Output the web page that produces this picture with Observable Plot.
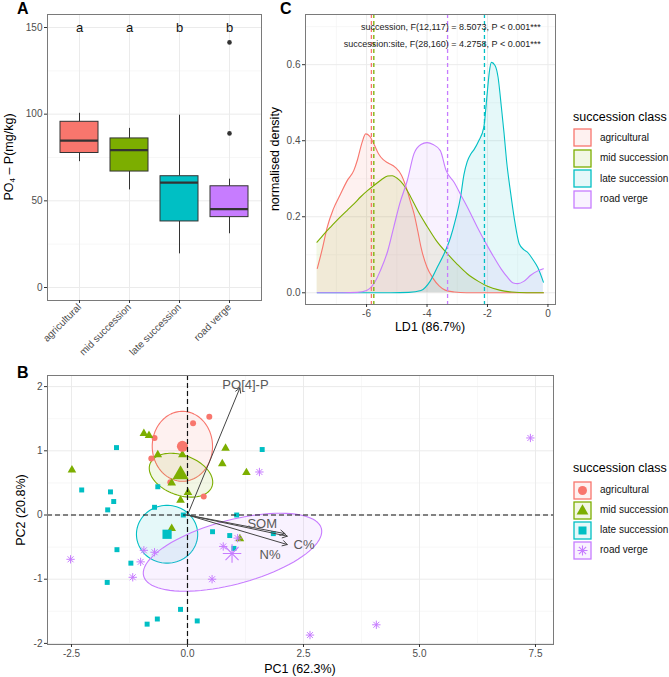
<!DOCTYPE html>
<html><head><meta charset="utf-8">
<script src="https://cdn.jsdelivr.net/npm/d3@7"></script>
<script src="https://cdn.jsdelivr.net/npm/@observablehq/plot@0.6"></script>
<style>
body{margin:0;background:#fff;font-family:"Liberation Sans",Arial,sans-serif;}
#c{position:relative;width:669px;height:677px;overflow:hidden;background:#fff;}
.abs{position:absolute;white-space:nowrap;line-height:1;}
</style></head><body><div id="c"></div>
<script>
// ---------- shared ----------
const classes = ["agricultural", "mid succession", "late succession", "road verge"];
const colors = ["#F8766D", "#7CAE00", "#00BFC4", "#C77CFF"];

// ---------- Panel A: boxplot PO4-P ----------
const boxMin = [72.6, 56.3, 19.4, 31.0];
const boxQ1 = [77.6, 66.9, 38.1, 40.6];
const boxMed = [84.7, 79.3, 60.5, 45.2];
const boxQ3 = [95.6, 86.0, 64.2, 58.4];
const boxMax = [100.5, 91.8, 99.4, 62.5];
const outlierClass = ["road verge", "road verge"];
const outlierValue = [141.4, 88.9];
const letters = ["a", "a", "b", "b"];
const letterLevel = 150;
const aTicks = [0, 50, 100, 150];
const aMinor = [25, 75, 125];

// ---------- Panel C: LDA densities ----------
const dAgriX = [-7.63,-7.45,-7.3,-7.1,-6.86,-6.64,-6.42,-6.3,-6.15,-6.03,-5.9,-5.75,-5.6,-5.45,-5.3,-5.05,-4.85,-4.7,-4.55,-4.43,-4.3,-4.2,-4.0,-3.8,-3.6,-3.4,-3.1,-2.7,-2.0,-1.0,-0.15];
const dAgriY = [0.064,0.12,0.173,0.22,0.26,0.295,0.322,0.35,0.395,0.418,0.412,0.39,0.365,0.35,0.342,0.33,0.31,0.28,0.24,0.208,0.16,0.12,0.067,0.038,0.018,0.007,0.002,0,0,0,0];
const dMidX = [-7.64,-7.4,-7.19,-6.9,-6.64,-6.4,-6.2,-5.95,-5.76,-5.5,-5.3,-5.15,-5.0,-4.87,-4.7,-4.54,-4.3,-4.0,-3.7,-3.33,-3.0,-2.67,-2.3,-2.0,-1.6,-1.2,-0.7,-0.15];
const dMidY = [0.133,0.155,0.173,0.197,0.217,0.235,0.252,0.27,0.282,0.298,0.307,0.308,0.302,0.293,0.275,0.252,0.215,0.175,0.138,0.103,0.075,0.05,0.03,0.017,0.007,0.002,0,0];
const dLateX = [-7.63,-5.2,-4.6,-4.2,-3.9,-3.66,-3.45,-3.22,-3.05,-2.89,-2.78,-2.67,-2.55,-2.45,-2.3,-2.12,-2.01,-1.94,-1.87,-1.75,-1.65,-1.54,-1.45,-1.37,-1.23,-1.12,-0.95,-0.79,-0.68,-0.51,-0.34,-0.15];
const dLateY = [0,0,0.001,0.006,0.03,0.067,0.1,0.146,0.195,0.252,0.31,0.345,0.365,0.376,0.398,0.436,0.524,0.58,0.606,0.598,0.567,0.488,0.418,0.348,0.26,0.199,0.129,0.113,0.107,0.089,0.067,0.028];
const dRoadX = [-7.63,-6.8,-6.3,-6.0,-5.75,-5.54,-5.3,-5.1,-4.9,-4.65,-4.43,-4.2,-4.0,-3.8,-3.56,-3.37,-3.1,-2.9,-2.6,-2.34,-2.05,-1.79,-1.55,-1.34,-1.15,-1.0,-0.8,-0.57,-0.35,-0.15];
const dRoadY = [0,0,0.001,0.006,0.025,0.059,0.11,0.173,0.235,0.296,0.366,0.39,0.395,0.39,0.374,0.322,0.29,0.26,0.215,0.173,0.13,0.094,0.063,0.041,0.026,0.024,0.03,0.046,0.057,0.063];
const meanLD1 = [-5.84, -5.76, -2.10, -3.32];
const annotTexts = ["succession, F(12,117) = 8.5073, P < 0.001***", "succession:site, F(28,160) = 4.2758, P < 0.001***"];
const annotY = [0.70, 0.654];
const annotX = -0.24;
const cXTicks = [-6, -4, -2, 0];
const cXMinor = [-7, -5, -3, -1];
const cYTicks = [0, 0.2, 0.4, 0.6];
const cYMinor = [0.1, 0.3, 0.5, 0.7];

// ---------- Panel B: PCA ----------
const agriPC1 = [0.47, 0.12, -0.71, -0.78, -0.37, 0.35];
const agriPC2 = [1.53, 1.43, 1.20, 0.88, 0.51, 0.29];
const midPC1 = [-2.49, -0.94, -0.83, -0.64, -0.11, -0.34, 0.01, -0.15, 0.82, 0.75, 1.27, -0.34, 1.13];
const midPC2 = [0.70, 1.27, 1.24, 0.94, 0.94, 0.50, 0.35, 0.23, 1.04, 0.80, 0.66, -0.21, -0.37];
const latePC1 = [-1.53, 1.61, -2.28, -1.66, -1.59, -1.72, -0.64, -0.71, -0.09, 1.06, -1.52, -1.22, -1.73, 0.54, 0.91, 1.00, 1.85, -0.15, -0.65, -0.87, 0.21];
const latePC2 = [1.05, 1.02, 0.39, 0.36, 0.21, 0.08, 0.44, 0.12, 0.00, 0.00, -0.54, -0.75, -1.05, -0.26, -0.32, -0.52, -0.29, -1.47, -1.62, -1.70, -1.65];
const roadPC1 = [1.55, 7.39, -2.52, -0.94, -0.71, -1.01, -1.18, 0.53, 0.77, 1.08, 2.64, 4.07];
const roadPC2 = [0.67, 1.20, -0.69, -0.55, -0.58, -0.73, -0.97, -1.00, -0.49, -0.36, -1.87, -1.71];
const centroidPC1 = [-0.11, -0.15, -0.44, 0.96];
const centroidPC2 = [1.07, 0.63, -0.30, -0.60];
// ellipse: centre + two semi-axis vectors (data units)
const ellCX = [-0.11, -0.14, -0.44, 0.97];
const ellCY = [1.07, 0.62, -0.30, -0.58];
const ellUX = [0.65, 0.668, 0.66, 1.915];
const ellUY = [0, -0.176, 0, 0.371];
const ellVX = [0, -0.147, 0, 0.178];
const ellVY = [0.545, -0.293, 0.45, -0.481];
const loadVar = ["PO[4]-P", "SOM", "C%", "N%"];
const loadPC1 = [1.13, 2.10, 2.15, 2.15];
const loadPC2 = [1.98, -0.29, -0.33, -0.46];
const loadLabPC1 = [1.25, 1.61, 2.51, 1.78];
const loadLabPC2 = [2.03, -0.14, -0.47, -0.62];
const loadLabAnchor = ["start", "middle", "middle", "middle"];
const bXTicks = [-2.5, 0, 2.5, 5, 7.5];
const bXMinor = [-1.25, 1.25, 3.75, 6.25];
const bYTicks = [-2, -1, 0, 1, 2];
const bYMinor = [-1.5, -0.5, 0.5, 1.5];

// ---------- helpers ----------
const FONT = "Liberation Sans, Arial, sans-serif";
const TICKC = "#4d4d4d";
const FRAMEC = "#7a7a7a";
const GRID = "#ebebeb";
const GRIDMINOR = "#f4f4f4";
const cont = document.getElementById("c");
function place(node, left, top) {
  const d = document.createElement("div");
  d.style.position = "absolute"; d.style.left = left + "px"; d.style.top = top + "px";
  d.appendChild(node); cont.appendChild(d);
}
function label(html, x, y, o = {}) {
  const d = document.createElement("div");
  d.className = "abs"; d.innerHTML = html;
  d.style.fontSize = (o.size || 12.5) + "px";
  d.style.fontWeight = o.weight || "normal";
  d.style.color = o.color || "#000";
  d.style.left = x + "px"; d.style.top = y + "px";
  const tx = o.anchor === "start" ? "0" : o.anchor === "end" ? "-100%" : "-50%";
  d.style.transform = `translate(${tx},-50%) rotate(${o.rotate || 0}deg)`;
  cont.appendChild(d);
}
const baseStyle = {fontFamily: FONT, background: "transparent", overflow: "visible"};

// ---------- Panel A ----------
const boxes = classes.map((c, i) => ({c, min: boxMin[i], q1: boxQ1[i], med: boxMed[i], q3: boxQ3[i], max: boxMax[i], letter: letters[i]}));
const outliers = outlierClass.map((c, i) => ({c, v: outlierValue[i]}));
const plotA = Plot.plot({
  width: 262, height: 350,
  marginLeft: 47, marginRight: 1, marginTop: 14, marginBottom: 50,
  x: {type: "band", domain: classes, paddingInner: 0.25, paddingOuter: 0.225, label: null},
  y: {domain: [-7.5, 157.5], label: null},
  color: {domain: classes, range: colors},
  style: baseStyle,
  marks: [
    Plot.ruleY(aMinor, {stroke: GRIDMINOR, strokeWidth: 0.7}),
    Plot.ruleY(aTicks, {stroke: GRID}),
    Plot.ruleX(classes, {stroke: GRID}),
    Plot.ruleX(boxes, {x: "c", y1: "min", y2: "q1", stroke: "#333", strokeWidth: 1}),
    Plot.ruleX(boxes, {x: "c", y1: "q3", y2: "max", stroke: "#333", strokeWidth: 1}),
    Plot.barY(boxes, {x: "c", y1: "q1", y2: "q3", fill: "c", stroke: "#333", strokeWidth: 1}),
    Plot.tickY(boxes, {x: "c", y: "med", stroke: "#333", strokeWidth: 2.2}),
    Plot.dot(outliers, {x: "c", y: "v", r: 2.3, fill: "#333", stroke: null}),
    Plot.text(boxes, {x: "c", y: () => letterLevel, text: "letter", fontSize: 13, fill: "#111"}),
    Plot.frame({stroke: FRAMEC}),
    Plot.axisY(aTicks, {tickSize: 3, tickPadding: 2, fontSize: 10, fill: TICKC, stroke: "#333", label: null}),
    Plot.axisX(classes, {tickSize: 3, tickPadding: 2, tickRotate: -45, textAnchor: "end", fontSize: 10, fill: TICKC, stroke: "#333", label: null})
  ]
});
place(plotA, 0, 0);

// ---------- Panel C ----------
const dens = [];
[[dAgriX, dAgriY], [dMidX, dMidY], [dLateX, dLateY], [dRoadX, dRoadY]].forEach(([xs, ys], i) => {
  xs.forEach((x, k) => dens.push({c: classes[i], x, y: ys[k]}));
});
const means = classes.map((c, i) => ({c, x: meanLD1[i]}));
const annots = annotTexts.map((t, i) => ({t, y: annotY[i]}));
const plotC = Plot.plot({
  width: 300, height: 340,
  marginLeft: 45, marginRight: 5, marginTop: 14, marginBottom: 36,
  x: {domain: [-8.02, 0.25], label: null},
  y: {domain: [-0.0308, 0.732], label: null},
  color: {domain: classes, range: colors},
  style: baseStyle,
  marks: [
    Plot.ruleX(cXMinor, {stroke: GRIDMINOR, strokeWidth: 0.7}),
    Plot.ruleY(cYMinor, {stroke: GRIDMINOR, strokeWidth: 0.7}),
    Plot.ruleX(cXTicks, {stroke: GRID}),
    Plot.ruleY(cYTicks, {stroke: GRID}),
    Plot.areaY(dens, {x: "x", y1: () => 0, y2: "y", z: "c", fill: "c", fillOpacity: 0.1, curve: "monotone-x"}),
    Plot.lineY(dens, {x: "x", y: "y", z: "c", stroke: "c", strokeWidth: 1.1, curve: "monotone-x"}),
    Plot.ruleX(means, {x: "x", stroke: "c", strokeWidth: 1.3, strokeDasharray: "4,3"}),
    Plot.text(annots, {x: () => annotX, y: "y", text: "t", textAnchor: "end", fontSize: 9, fill: "#222"}),
    Plot.frame({stroke: FRAMEC}),
    Plot.axisY(cYTicks, {tickSize: 3, tickPadding: 2, fontSize: 10, fill: TICKC, stroke: "#333", tickFormat: d3.format(".1f"), label: null}),
    Plot.axisX(cXTicks, {tickSize: 3, tickPadding: 2, fontSize: 10, fill: TICKC, stroke: "#333", tickFormat: d => String(d), label: null})
  ]
});
place(plotC, 260, 0);

// ---------- Panel B ----------
const mk = (xs, ys) => xs.map((x, i) => ({x, y: ys[i]}));
const agriPts = mk(agriPC1, agriPC2), midPts = mk(midPC1, midPC2), latePts = mk(latePC1, latePC2), roadPts = mk(roadPC1, roadPC2);
const cents = classes.map((c, i) => ({c, x: centroidPC1[i], y: centroidPC2[i]}));
const ellMarks = classes.map((c, i) => {
  const pts = [];
  for (let k = 0; k <= 90; k++) {
    const t = 2 * Math.PI * k / 90;
    pts.push({x: ellCX[i] + ellUX[i] * Math.cos(t) + ellVX[i] * Math.sin(t), y: ellCY[i] + ellUY[i] * Math.cos(t) + ellVY[i] * Math.sin(t)});
  }
  return Plot.line(pts, {x: "x", y: "y", stroke: colors[i], fill: colors[i], fillOpacity: 0.1, strokeWidth: 1.1});
});
const loads = loadVar.map((v, i) => ({v, x: loadPC1[i], y: loadPC2[i], lx: loadLabPC1[i], ly: loadLabPC2[i], a: loadLabAnchor[i]}));
const plotB = Plot.plot({
  width: 560, height: 347,
  marginLeft: 47, marginRight: 7, marginTop: 45, marginBottom: 33,
  x: {domain: [-3.017, 7.888], label: null},
  y: {domain: [-2.017, 2.173], label: null},
  style: baseStyle,
  marks: [
    Plot.ruleX(bXMinor, {stroke: GRIDMINOR, strokeWidth: 0.7}),
    Plot.ruleY(bYMinor, {stroke: GRIDMINOR, strokeWidth: 0.7}),
    Plot.ruleX(bXTicks, {stroke: GRID}),
    Plot.ruleY(bYTicks, {stroke: GRID}),
    ...ellMarks,
    Plot.dot(agriPts, {x: "x", y: "y", symbol: "circle", r: 3, fill: colors[0], stroke: null}),
    Plot.dot(midPts, {x: "x", y: "y", symbol: "triangle", r: 3.2, fill: colors[1], stroke: null}),
    Plot.dot(latePts, {x: "x", y: "y", symbol: "square", r: 2.8, fill: colors[2], stroke: null}),
    Plot.dot(roadPts, {x: "x", y: "y", symbol: "plus", r: 2.8, fill: "none", stroke: colors[3], strokeWidth: 1}),
    Plot.dot(roadPts, {x: "x", y: "y", symbol: "times", r: 2.8, fill: "none", stroke: colors[3], strokeWidth: 1}),
    Plot.dot([cents[0]], {x: "x", y: "y", symbol: "circle", r: 5.5, fill: colors[0], stroke: null}),
    Plot.dot([cents[1]], {x: "x", y: "y", symbol: "triangle", r: 6, fill: colors[1], stroke: null}),
    Plot.dot([cents[2]], {x: "x", y: "y", symbol: "square", r: 5.2, fill: colors[2], stroke: null}),
    Plot.dot([cents[3]], {x: "x", y: "y", symbol: "plus", r: 6, fill: "none", stroke: colors[3], strokeWidth: 1.1}),
    Plot.dot([cents[3]], {x: "x", y: "y", symbol: "times", r: 6, fill: "none", stroke: colors[3], strokeWidth: 1.1}),
    Plot.ruleX([0], {stroke: "#111", strokeWidth: 1.2, strokeDasharray: "5,3"}),
    Plot.ruleY([0], {stroke: "#111", strokeWidth: 1.2, strokeDasharray: "5,3"}),
    Plot.arrow(loads, {x1: () => 0, y1: () => 0, x2: "x", y2: "y", stroke: "#444", strokeWidth: 1, headLength: 8}),
    Plot.text(loads, {x: "lx", y: "ly", text: "v", textAnchor: d => d.a, fontSize: 13, fill: "#595959"}),
    Plot.frame({stroke: FRAMEC}),
    Plot.axisY(bYTicks, {tickSize: 3, tickPadding: 2, fontSize: 10, fill: TICKC, stroke: "#333", tickFormat: d => String(d), label: null}),
    Plot.axisX(bXTicks, {tickSize: 3, tickPadding: 2, fontSize: 10, fill: TICKC, stroke: "#333", tickFormat: d => d.toFixed(1), label: null})
  ]
});
place(plotB, 0, 330);

// ---------- titles ----------
label("A", 17, 9, {size: 16, weight: "bold", anchor: "start"});
label("C", 280, 9, {size: 16, weight: "bold", anchor: "start"});
label("B", 17, 373, {size: 16, weight: "bold", anchor: "start"});
label("PO<sub style='font-size:8px;vertical-align:-2px'>4</sub> – P(mg/kg)", 10, 157, {rotate: -90});
label("normalised density", 275, 159, {rotate: -90});
label("LD1 (86.7%)", 430, 327);
label("PC2 (20.8%)", 21, 510, {rotate: -90});
label("PC1 (62.3%)", 300, 669);

// ---------- legends ----------
function legend(top, keyY0, step, withSymbols) {
  label("succession class", 573, top, {anchor: "start"});
  classes.forEach((c, i) => {
    const cy = keyY0 + i * step;
    const svg = d3.create("svg").attr("width", 19).attr("height", 19);
    svg.append("rect").attr("x", 1).attr("y", 1).attr("width", 17).attr("height", 17)
      .attr("fill", colors[i]).attr("fill-opacity", 0.1).attr("stroke", colors[i]).attr("stroke-width", 1.3);
    if (withSymbols) {
      const g = svg.append("g").attr("transform", "translate(9.5,9.5)");
      if (i === 0) g.append("circle").attr("r", 4.5).attr("fill", colors[i]);
      if (i === 1) g.append("path").attr("d", d3.symbol(d3.symbolTriangle, 60)()).attr("fill", colors[i]).attr("transform", "translate(0,0.5)");
      if (i === 2) g.append("rect").attr("x", -4).attr("y", -4).attr("width", 8).attr("height", 8).attr("fill", colors[i]);
      if (i === 3) {
        g.append("path").attr("d", "M-5,0H5M0,-5V5M-3.6,-3.6L3.6,3.6M-3.6,3.6L3.6,-3.6").attr("stroke", colors[i]).attr("stroke-width", 1.1).attr("fill", "none");
      }
    }
    place(svg.node(), 573, cy - 9.5);
    label(c, 600, cy, {size: 10, anchor: "start", color: "#111"});
  });
}
legend(117, 137.5, 20.5, false);
legend(468, 490, 20, true);
</script></body></html>
